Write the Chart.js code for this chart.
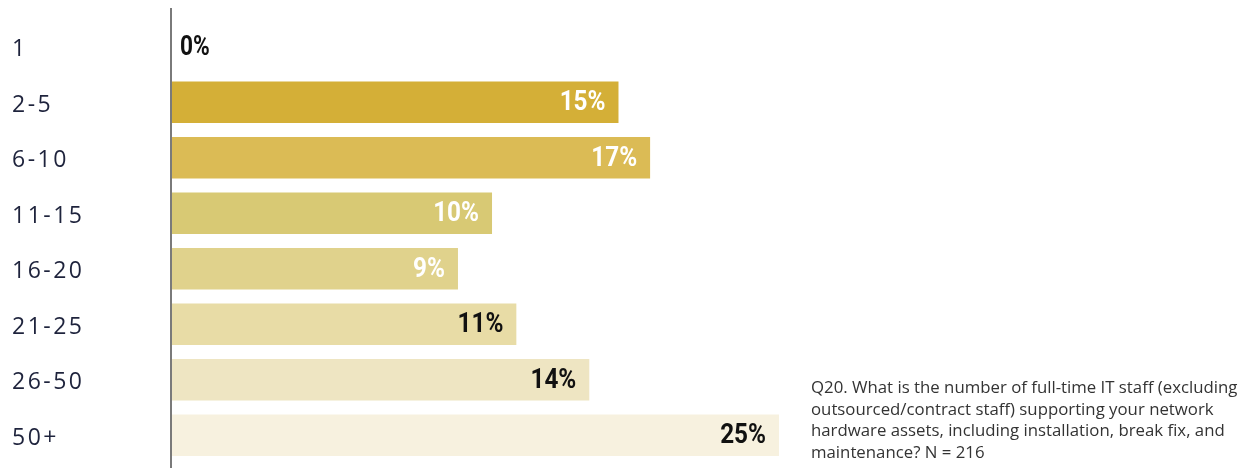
<!DOCTYPE html>
<html>
<head>
<meta charset="utf-8">
<script src="https://cdn.jsdelivr.net/npm/chart.js@4"></script>
<style>
  html, body { margin: 0; padding: 0; background: #fff; }
  #wrap { width: 1251px; height: 468px; position: relative; }
</style>
</head>
<body>
<div id="wrap"><canvas id="mycanvas" width="1251" height="468"></canvas></div>
<script>
// staff-count buckets
var categories = ['1', '2-5', '6-10', '11-15', '16-20', '21-25', '26-50', '50+'];
// bar lengths as drawn in the picture (the printed labels don't quite match them)
var barValues = [0, 18.4, 19.7, 13.2, 11.8, 14.2, 17.2, 25];
var pctLabels = ['0%', '15%', '17%', '10%', '9%', '11%', '14%', '25%'];
var barColors = ['#d4af37', '#d4af37', '#dbbb55', '#d8c974', '#e0d28c', '#e8dca6', '#eee5c2', '#f7f1df'];
var labelColors = ['#111', '#fff', '#fff', '#fff', '#fff', '#111', '#111', '#111'];
var noteLines = [
  'Q20. What is the number of full-time IT staff (excluding',
  'outsourced/contract staff) supporting your network',
  'hardware assets, including installation, break fix, and',
  'maintenance? N = 216'
];

var extras = {
  id: 'extras',
  afterDatasetsDraw: function(chart) {
    var ctx = chart.ctx;
    var area = chart.chartArea;
    var y = chart.scales.y;
    var x = chart.scales.x;
    ctx.save();

    // axis line
    ctx.strokeStyle = '#7a7a7a';
    ctx.lineWidth = 2;
    ctx.beginPath();
    ctx.moveTo(area.left, 8);
    ctx.lineTo(area.left, chart.height);
    ctx.stroke();

    // category labels
    ctx.font = '23px "Open Sans"';
    ctx.fillStyle = '#1e233c';
    ctx.textBaseline = 'middle';
    ctx.textAlign = 'left';
    ctx.letterSpacing = '2.5px';
    for (var i = 0; i < categories.length; i++) {
      ctx.fillText(categories[i], 12, y.getPixelForValue(i) + 3);
    }
    ctx.letterSpacing = '0px';

    // value labels, condensed bold
    ctx.font = 'bold 27px Roboto';
    for (var j = 0; j < pctLabels.length; j++) {
      var cy = y.getPixelForValue(j);
      var end = x.getPixelForValue(barValues[j]);
      ctx.save();
      ctx.fillStyle = labelColors[j];
      if (barValues[j] === 0) {
        ctx.translate(area.left + 9, cy);
        ctx.scale(0.84, 1);
        ctx.textAlign = 'left';
      } else {
        ctx.translate(end - 13, cy);
        ctx.scale(0.9, 1);
        ctx.textAlign = 'right';
      }
      ctx.fillText(pctLabels[j], 0, 1);
      ctx.restore();
    }

    // footnote
    ctx.font = '16.8px "Open Sans"';
    ctx.fillStyle = '#333';
    ctx.textAlign = 'left';
    ctx.textBaseline = 'alphabetic';
    for (var k = 0; k < noteLines.length; k++) {
      ctx.fillText(noteLines[k], 811, 393 + k * 21.5);
    }
    ctx.restore();
  }
};

var ctx = document.getElementById('mycanvas');

var barGraph = new Chart(ctx, {
  type: 'bar',
  data: {
    labels: categories,
    datasets: [{
      data: barValues,
      backgroundColor: barColors,
      borderWidth: 0,
      barPercentage: 0.75,
      categoryPercentage: 1
    }]
  },
  options: {
    indexAxis: 'y',
    responsive: false,
    animation: false,
    layout: { padding: { left: 171, right: 472, top: 19, bottom: 5 } },
    plugins: { legend: { display: false }, tooltip: { enabled: false } },
    scales: {
      x: { display: false, min: 0, max: 25 },
      y: { display: false }
    }
  },
  plugins: [extras]
});
</script>
</body>
</html>
